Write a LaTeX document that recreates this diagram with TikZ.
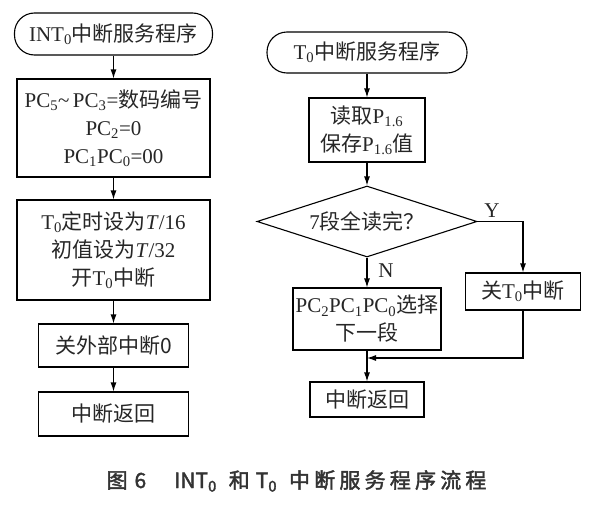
\documentclass[tikz,border=0pt]{standalone}
\usepackage{fontspec}
\setmainfont{Liberation Serif}
\newfontfamily\cjk{Noto Sans CJK SC}
\newfontfamily\capfont{Noto Sans CJK SC}[FakeBold=2]
\newfontfamily\capwide{Noto Sans CJK SC}[FakeBold=2,LetterSpace=20]
\newcommand\zh[1]{{\cjk #1}}
\usetikzlibrary{arrows.meta,shapes.geometric}
\begin{document}
\begin{tikzpicture}[x=1pt,y=-1pt,
  box/.style={draw,line width=1.1pt,align=center,inner sep=1pt,font=\fontsize{21}{28}\selectfont,text=black!85},
  term/.style={box,rounded corners=20pt},
  test/.style={box,shape=diamond,aspect=3},
  flow/.style={line width=1.1pt,-{Latex[length=9pt,width=6pt]}},
  lbl/.style={font=\fontsize{21}{24}\selectfont,text=black!85}]
\useasboundingbox (0,0) rectangle (592,506);

\node[term,minimum width=198pt,minimum height=42pt] (startL) at (113.5,34) {INT\textsubscript{0}\zh{中断服务程序}};
\node[box,minimum width=193pt,minimum height=98pt] (initL) at (113.5,128) {PC\textsubscript{5}\textasciitilde\,PC\textsubscript{3}=\zh{数码编号}\\PC\textsubscript{2}=0\\PC\textsubscript{1}PC\textsubscript{0}=00};
\node[box,minimum width=193pt,minimum height=100pt] (timerL) at (113.5,250) {T\textsubscript{0}\zh{定时设为}\textit{T}/16\\\zh{初值设为}\textit{T}/32\\\zh{开}T\textsubscript{0}\zh{中断}};
\node[box,minimum width=150pt,minimum height=43pt] (offL) at (113.5,345.5) {\zh{关外部中断0}};
\node[box,minimum width=150pt,minimum height=44pt] (retL) at (113.5,414) {\zh{中断返回}};

\node[term,minimum width=200pt,minimum height=41pt] (startR) at (367,52.5) {T\textsubscript{0}\zh{中断服务程序}};
\node[box,minimum width=116pt,minimum height=64pt] (readR) at (367,130) {\zh{读取}P\textsubscript{1.6}\\\zh{保存}P\textsubscript{1.6}\zh{值}};
\node[test,minimum width=220pt,minimum height=71pt] (testR) at (367,221.5) {7\zh{段全读完？}};
\node[box,minimum width=148pt,minimum height=62pt] (nextR) at (367,319) {PC\textsubscript{2}PC\textsubscript{1}PC\textsubscript{0}\zh{选择}\\\zh{下一段}};
\node[box,minimum width=115pt,minimum height=37pt] (offR) at (523,291.5) {\zh{关}T\textsubscript{0}\zh{中断}};
\node[box,minimum width=114pt,minimum height=35pt] (retR) at (367,399.5) {\zh{中断返回}};
\coordinate (join) at (367,358);

\node[lbl] (yes) at (492,211) {Y};
\node[lbl] (no) at (386,271) {N};

\draw[flow] (startL) -- (initL);
\draw[flow] (initL) -- (timerL);
\draw[flow] (timerL) -- (offL);
\draw[flow] (offL) -- (retL);

\draw[flow] (startR) -- (readR);
\draw[flow] (readR) -- (testR);
\draw[flow] (testR) -- (nextR);
\draw[flow] (testR.east) -| (offR.north);
\draw[flow] (offR.south) |- (join);
\draw[flow] (nextR) -- (retR);

\node[font=\fontsize{21}{24}\selectfont,text=black!80] (caption) at (296.5,481) {\capfont 图\hspace{7pt}6\hspace{28pt}INT\textsubscript{0}\hspace{12pt}和\hspace{6pt}T\textsubscript{0}\hspace{12pt}{\capwide 中断服务程序流程}};
\end{tikzpicture}
\end{document}
